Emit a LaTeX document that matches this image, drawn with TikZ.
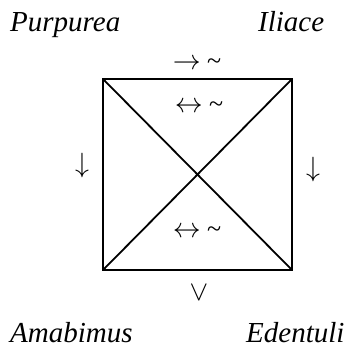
\documentclass[tikz,border=0pt]{standalone}
\usepackage{fontspec}
\usepackage{graphicx}
\setmainfont{Liberation Serif}
\begin{document}
\begin{tikzpicture}[x=1pt,y=1pt,
  lbl/.style={inner sep=0pt,anchor=base west,font=\fontsize{29}{32}\selectfont\itshape},
  sym/.style={inner sep=0pt,font=\fontsize{26}{30}\selectfont},
  edge/.style={line width=1.8pt}]
\newcommand{\bigar}[1]{\scalebox{1.12}{\fontsize{24.88}{28}\selectfont$#1$}}
\useasboundingbox (0,0) rectangle (362,349);
\coordinate (tl) at (103,270);
\coordinate (tr) at (292,270);
\coordinate (bl) at (103,79);
\coordinate (br) at (292,79);
\draw[edge] (tl) -- (tr) -- (br) -- (bl) -- cycle;
\draw[edge] (tl) -- (br);
\draw[edge] (tr) -- (bl);
\node[lbl] (p) at (10,317) {Purpurea};
\node[lbl] (i) at (258,317) {Iliace};
\node[lbl] (a) at (10,7) {Amabimus};
\node[lbl] (e) at (246,7) {Edentuli};
\node[sym] (top) at (197,285) {\bigar{\rightarrow} \textasciitilde};
\node[sym] (itop) at (199,242) {\bigar{\leftrightarrow} \textasciitilde};
\node[sym] (ibot) at (197,117) {\bigar{\leftrightarrow} \textasciitilde};
\node[sym] (bot) at (199,56) {\bigar{\vee}};
\node[sym] (left) at (82,183) {\bigar{\downarrow}};
\node[sym] (right) at (313,179) {\bigar{\downarrow}};
\end{tikzpicture}
\end{document}
